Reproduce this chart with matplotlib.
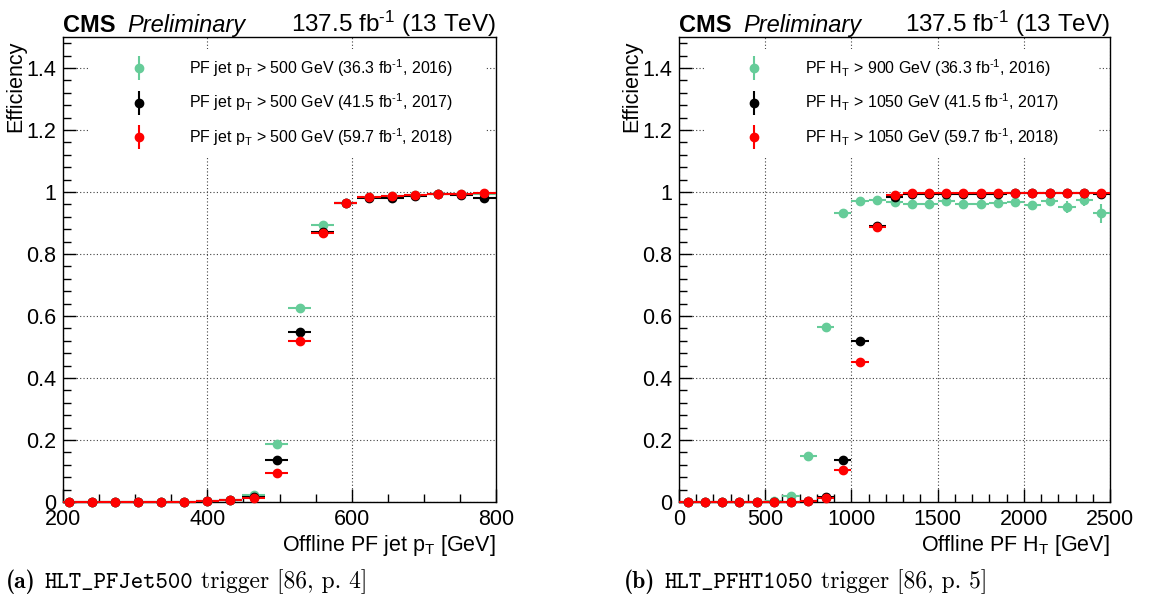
import numpy as np
import matplotlib

matplotlib.use('Agg')
import matplotlib.pyplot as plt
from matplotlib.container import ErrorbarContainer
from matplotlib.legend_handler import HandlerErrorbar
from matplotlib.ticker import MultipleLocator, FuncFormatter

plt.rcParams['font.family'] = ['Liberation Sans', 'DejaVu Sans']
plt.rcParams['mathtext.fontset'] = 'custom'
plt.rcParams['mathtext.rm'] = 'Liberation Sans'
plt.rcParams['mathtext.it'] = 'Liberation Sans:italic'
plt.rcParams['mathtext.bf'] = 'Liberation Sans:bold'

# (a) HLT_PFJet500, offline jet pT bins (GeV)
jet_pt = [208, 240, 272, 304, 336, 368, 400, 432, 464, 496,
          528, 560, 592, 624, 656, 688, 720, 752, 784]
jet_halfwidth = 16
jet_eff_2016 = [0, 0, 0, 0, 0, 0.001, 0.003, 0.007, 0.022, 0.188,
                0.625, 0.895, 0.966, 0.984, 0.988, 0.990, 0.993, 0.993, 0.994]
jet_eff_2017 = [0, 0, 0, 0, 0, 0.001, 0.003, 0.007, 0.017, 0.136,
                0.550, 0.872, 0.963, 0.982, 0.980, 0.986, 0.992, 0.991, 0.981]
jet_eff_2018 = [0, 0, 0, 0, 0, 0.001, 0.002, 0.006, 0.014, 0.093,
                0.519, 0.867, 0.963, 0.983, 0.988, 0.991, 0.994, 0.993, 0.996]
jet_err = [0, 0, 0, 0, 0, 0.001, 0.001, 0.002, 0.003, 0.004,
           0.005, 0.004, 0.003, 0.003, 0.003, 0.003, 0.003, 0.004, 0.005]

# (b) HLT_PFHT1050, offline HT bins (GeV)
ht = [50, 150, 250, 350, 450, 550, 650, 750, 850, 950, 1050, 1150, 1250,
      1350, 1450, 1550, 1650, 1750, 1850, 1950, 2050, 2150, 2250, 2350, 2450]
ht_halfwidth = 50
ht_eff_2016 = [0, 0, 0, 0, 0, 0.003, 0.020, 0.149, 0.564, 0.933, 0.970, 0.973, 0.968,
               0.960, 0.962, 0.972, 0.960, 0.960, 0.963, 0.969, 0.958, 0.970, 0.951, 0.975, 0.931]
ht_eff_2017 = [0, 0, 0, 0, 0, 0, 0, 0.004, 0.015, 0.134, 0.518, 0.889, 0.983,
               0.993, 0.993, 0.995, 0.993, 0.994, 0.995, 0.997, 0.996, 0.996, 0.996, 0.997, 0.994]
ht_eff_2018 = [0, 0, 0, 0, 0, 0, 0, 0.004, 0.012, 0.104, 0.452, 0.886, 0.989,
               0.996, 0.996, 0.997, 0.996, 0.997, 0.997, 0.998, 0.998, 0.998, 0.998, 0.998, 0.998]
ht_err_2016 = [0, 0, 0, 0, 0, 0.002, 0.004, 0.006, 0.006, 0.005, 0.004, 0.004, 0.005,
               0.005, 0.006, 0.007, 0.007, 0.008, 0.008, 0.010, 0.013, 0.016, 0.020, 0.020, 0.030]
ht_err_1718 = [0, 0, 0, 0, 0, 0, 0, 0.001, 0.002, 0.003, 0.004, 0.003, 0.003,
               0.002, 0.002, 0.002, 0.003, 0.003, 0.003, 0.003, 0.004, 0.004, 0.005, 0.006, 0.012]

years = ['2016', '2017', '2018']
lumis = ['36.3', '41.5', '59.7']
colors = ['#66cc99', 'black', 'red']

jet_labels = ['PF jet p$_{\\mathrm{T}}$ > 500 GeV (%s fb$^{\\text{-}1}$, %s)' % (l, y)
              for l, y in zip(lumis, years)]
ht_labels = ['PF H$_{\\mathrm{T}}$ > %s GeV (%s fb$^{\\text{-}1}$, %s)' % (c, l, y)
             for c, l, y in zip(['900', '1050', '1050'], lumis, years)]

W, H = 1150, 603
fig = plt.figure(figsize=(W / 100, H / 100), dpi=100)
renderer = fig.canvas.get_renderer()


def px_to_fig(x, y):
    return x / W, 1 - y / H


def chain_text(x, y, parts):
    """draw text pieces one after another on a common baseline (pixel coords)"""
    for s, gap, props in parts:
        t = fig.text(*px_to_fig(x, y), s, va='baseline', ha='left', **props)
        bb = t.get_window_extent(renderer)
        x = bb.x1 + gap


def draw_panel(rect, xs, halfwidth, effs, errs, labels, xlim, xmajor, xminor, xlabel):
    ax = fig.add_axes(rect)
    xs = np.asarray(xs, dtype=float)
    xlo = np.minimum(halfwidth, xs - xlim[0])
    xerr = [xlo, np.full_like(xs, halfwidth)]
    for eff, err, col, lab in zip(effs, errs, colors, labels):
        ax.errorbar(xs, eff, xerr=xerr, yerr=err, fmt='o', color=col, ms=6,
                    elinewidth=1.5, capsize=0, label=lab, clip_on=False, zorder=3)
    ax.set_xlim(*xlim)
    ax.set_ylim(0, 1.5)
    ax.xaxis.set_major_locator(MultipleLocator(xmajor))
    ax.xaxis.set_minor_locator(MultipleLocator(xminor))
    ax.yaxis.set_major_locator(MultipleLocator(0.2))
    ax.yaxis.set_minor_locator(MultipleLocator(0.04))
    fmt = FuncFormatter(lambda v, p: '%g' % round(v, 3))
    ax.xaxis.set_major_formatter(fmt)
    ax.yaxis.set_major_formatter(fmt)
    ax.tick_params(which='both', direction='in', top=False, right=False,
                   labelsize=15.5, width=1.0)
    ax.tick_params(which='major', length=9.5, pad=5)
    ax.tick_params(which='minor', length=5.5)
    ax.grid(True, which='major', linestyle=(0, (1, 2)), color='0.25', lw=0.8)
    for sp in ax.spines.values():
        sp.set_linewidth(1.0)
    ax.set_xlabel(xlabel, loc='right', fontsize=15.5, labelpad=2)
    ax.set_ylabel('Efficiency', loc='top', fontsize=15.5)
    ax.yaxis.set_label_coords(-0.085, 0.993)

    leg = ax.legend(loc='upper left', bbox_to_anchor=(0.062, 0.974, 0.913, 0.0),
                    mode='expand', borderaxespad=0, borderpad=0.5, fontsize=11.5,
                    frameon=True, fancybox=False, framealpha=1, edgecolor='none',
                    facecolor='white', handlelength=5.1, handletextpad=0.6,
                    labelspacing=0.8, numpoints=1,
                    handler_map={ErrorbarContainer: HandlerErrorbar(xerr_size=0, yerr_size=0.75)})
    leg.set_zorder(5)
    return ax


ax1 = draw_panel([63 / W, 1 - 502 / H, 433 / W, 465 / H], jet_pt, jet_halfwidth,
                 [jet_eff_2016, jet_eff_2017, jet_eff_2018], [jet_err, jet_err, jet_err],
                 jet_labels, (200, 800), 200, 50, 'Offline PF jet p$_{\\mathrm{T}}$ [GeV]')
ax2 = draw_panel([679 / W, 1 - 502 / H, 431 / W, 465 / H], ht, ht_halfwidth,
                 [ht_eff_2016, ht_eff_2017, ht_eff_2018], [ht_err_2016, ht_err_1718, ht_err_1718],
                 ht_labels, (0, 2500), 500, 100, 'Offline PF H$_{\\mathrm{T}}$ [GeV]')

# CMS headers
for ax in (ax1, ax2):
    bb = ax.get_window_extent(renderer)
    chain_text(bb.x0, 32, [('CMS', 12, dict(fontsize=17, fontweight='bold')),
                           ('Preliminary', 0, dict(fontsize=17, fontstyle='italic'))])
    fig.text(*px_to_fig(bb.x1, 32), '137.5 fb$^{\\text{-}1}$ (13 TeV)', fontsize=17.5,
             ha='right', va='baseline')

# sub-captions
cap = 17
chain_text(6, 588, [('(a)', 9, dict(family='cmb10', fontsize=cap)),
                    ('HLT_PFJet500', 8, dict(family='cmtt10', fontsize=cap)),
                    ('trigger [86, p. 4]', 0, dict(family='cmr10', fontsize=cap))])
chain_text(624, 588, [('(b)', 9, dict(family='cmb10', fontsize=cap)),
                      ('HLT_PFHT1050', 8, dict(family='cmtt10', fontsize=cap)),
                      ('trigger [86, p. 5]', 0, dict(family='cmr10', fontsize=cap))])

fig.savefig('out.png', dpi=100)
